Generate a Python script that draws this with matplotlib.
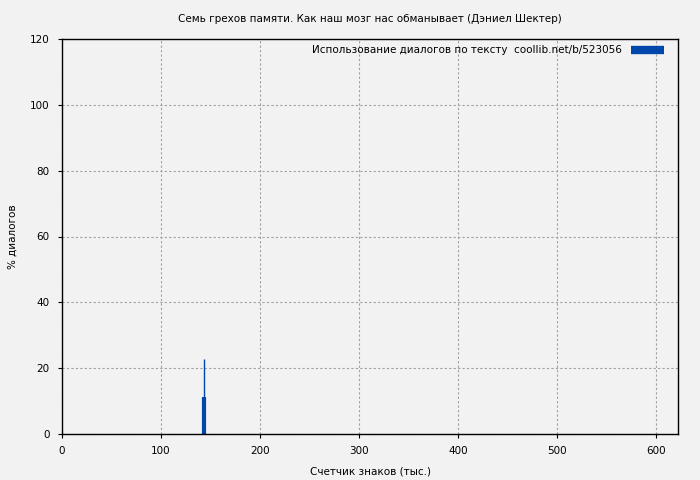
import matplotlib.pyplot as plt

x_pos = [143]
bar_vals = [11.2]
peak_vals = [22.8]

fs = 7.5

fig = plt.figure(figsize=(7, 4.8), dpi=100, facecolor='#f2f2f2')
ax = fig.add_axes([62/700, 1-434/480, 616/700, 395/480])
ax.set_facecolor('#f2f2f2')

ax.vlines(x_pos, 0, peak_vals, color='#0047ab', linewidth=1)
ax.vlines(x_pos, 0, bar_vals, color='#0047ab', linewidth=3,
          label='Использование диалогов по тексту  coollib.net/b/523056')

ax.set_xlim(0, 622)
ax.set_ylim(0, 120)
ax.set_xticks([0, 100, 200, 300, 400, 500, 600])
ax.set_yticks([0, 20, 40, 60, 80, 100, 120])
ax.grid(True, color='#a0a0a0', linestyle=(0, (2, 2)), linewidth=0.8)
ax.tick_params(labelsize=fs, direction='out', length=3)
ax.tick_params(axis='x', pad=6)
ax.tick_params(axis='y', pad=6)
for s in ax.spines.values():
    s.set_linewidth(1)

ax.set_title('Семь грехов памяти. Как наш мозг нас обманывает (Дэниел Шектер)', fontsize=fs, pad=12)
ax.set_xlabel('Счетчик знаков (тыс.)', fontsize=fs, labelpad=7)
ax.set_ylabel('% диалогов', fontsize=fs, labelpad=9)

leg = ax.legend(loc='upper right', fontsize=fs, frameon=False, markerfirst=False,
                handlelength=3.2, handletextpad=0.9, borderaxespad=0.9,
                bbox_to_anchor=(1, 1.018))
for h in leg.legend_handles:
    h.set_linewidth(6)

fig.savefig('out.png', dpi=100, facecolor=fig.get_facecolor())
